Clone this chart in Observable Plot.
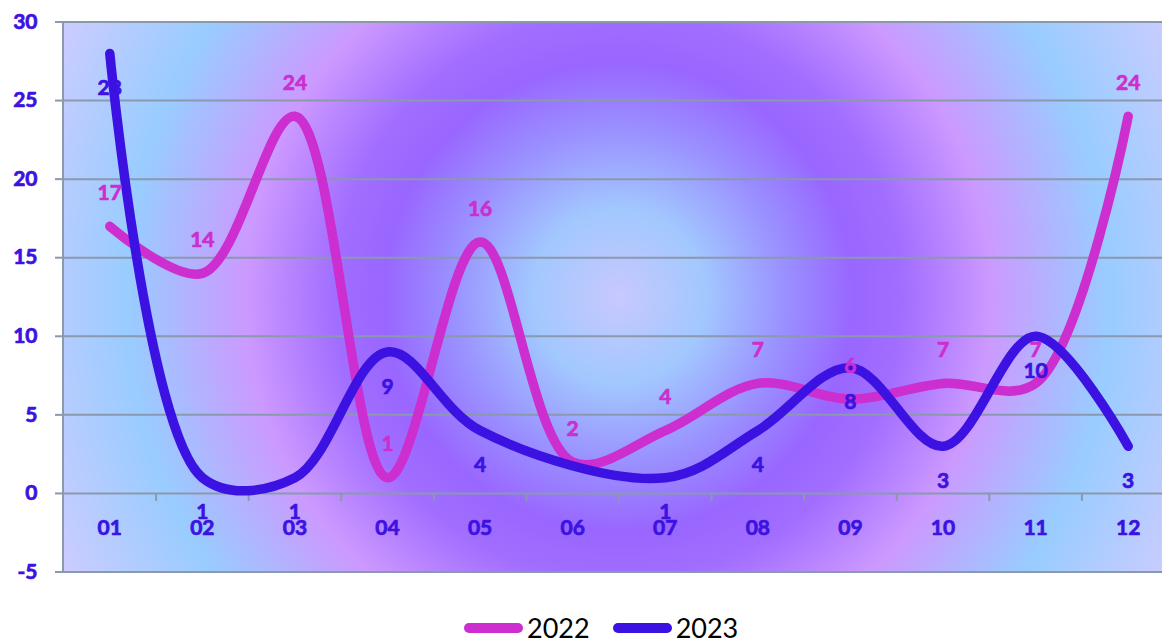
<!DOCTYPE html>
<html>
<head>
<meta charset="utf-8">
<script src="https://cdn.jsdelivr.net/npm/d3@7"></script>
<script src="https://cdn.jsdelivr.net/npm/@observablehq/plot@0.6"></script>
<style>
  body { margin: 0; background: #fff; font-family: Lato, sans-serif; }
  #chart svg { display: block; }
  .legend { display: flex; align-items: center; height: 47px; margin-top: 9px; padding-left: 464px; font-family: Lato, sans-serif; font-size: 27px; color: #000; }
  .legend .sw { width: 59px; height: 10px; border-radius: 5px; margin-right: 4px; }
  .legend .item { display: flex; align-items: center; margin-right: 23px; }
</style>
</head>
<body>
<div id="chart"></div>
<script>
const months = ["01","02","03","04","05","06","07","08","09","10","11","12"];
const series = ["2022","2023"];
const v2022 = [17, 14, 24, 1, 16, 2, 4, 7, 6, 7, 7, 24];
const v2023 = [28, 1, 1, 9, 4, null, 1, 4, 8, 3, 10, 3];
const yTicks = [-5, 0, 5, 10, 15, 20, 25, 30];

const colors = ["#cc2ecf", "#3b12e2"];
const grid = "#8a99ad";
const axisColor = "#3b12e2";
const font = "Lato, sans-serif";
const weight = "bold";
const thick = 0.7;

const data = months.flatMap((m, i) => [
  {month: m, series: "2022", value: v2022[i]},
  {month: m, series: "2023", value: v2023[i]}
]).filter(d => d.value != null);

const W = 1162, H = 595;
const mL = 63, mR = -12, mT = 21.5, mB = 23.5;
const bw = (W - mL - mR) / months.length;

function background(index, scales, values, dims) {
  const g = d3.create("svg:g");
  const x0 = dims.marginLeft, x1 = dims.width - dims.marginRight;
  const y0 = dims.marginTop, y1 = dims.height - dims.marginBottom;
  const cx = (x0 + x1) / 2, cy = (y0 + y1) / 2;
  const r = Math.hypot(x1 - cx, y1 - cy);
  const grad = g.append("defs").append("radialGradient")
    .attr("id", "bgGrad").attr("gradientUnits", "userSpaceOnUse")
    .attr("cx", cx).attr("cy", cy).attr("r", r);
  [[0, "#c8c8ff"], [0.14, "#a2c8fe"], [0.27, "#9a90ff"], [0.38, "#9966ff"], [0.46, "#a26eff"],
   [0.6, "#cc99ff"], [0.79, "#99ccff"], [1, "#cdccff"]].forEach(([o, c]) =>
    grad.append("stop").attr("offset", o).attr("stop-color", c));
  g.append("rect").attr("x", x0).attr("y", y0).attr("width", x1 - x0).attr("height", y1 - y0)
    .attr("fill", "url(#bgGrad)");
  g.append("line").attr("x1", x0).attr("x2", x0).attr("y1", y0).attr("y2", y1)
    .attr("stroke", grid).attr("stroke-width", 2);
  return g.node();
}

const textStyle = (c) => ({fill: c, stroke: c, strokeWidth: thick, fontSize: 21, fontWeight: weight, lineAnchor: "middle"});

const chart = Plot.plot({
  width: W, height: H,
  marginLeft: mL, marginRight: mR, marginTop: mT, marginBottom: mB,
  style: {fontFamily: font, background: "transparent"},
  x: {type: "band", domain: months, padding: 0, round: false, axis: null},
  y: {domain: [-5, 30], axis: null},
  color: {domain: series, range: colors},
  marks: [
    background,
    Plot.ruleY(yTicks, {stroke: grid, strokeWidth: 2}),
    Plot.ruleX(months.slice(1), {x: d => d, y1: 0, y2: 0, insetBottom: -8, dx: -bw / 2, stroke: grid, strokeWidth: 2}),
    Plot.axisY(yTicks, {tickSize: 8, tickPadding: 18, stroke: grid, strokeWidth: 2, text: null, label: null}),
    Plot.text(yTicks, {y: d => d, text: d => String(d), frameAnchor: "left", dx: -26, textAnchor: "end", ...textStyle(axisColor)}),
    Plot.text(months, {x: d => d, frameAnchor: "bottom", dy: -44, ...textStyle(axisColor)}),
    Plot.line(data, {x: "month", y: "value", z: "series", stroke: "series", curve: "catmull-rom", strokeWidth: 9.5, strokeLinecap: "round", strokeLinejoin: "round"}),
    Plot.text(data.filter(d => d.series === "2022"), {x: "month", y: "value", text: d => String(d.value), dy: -33, ...textStyle(colors[0])}),
    Plot.text(data.filter(d => d.series === "2023"), {x: "month", y: "value", text: d => String(d.value), dy: 35, ...textStyle(colors[1])})
  ]
});
document.getElementById("chart").appendChild(chart);

const legend = document.createElement("div");
legend.className = "legend";
series.forEach((s, i) => {
  const item = document.createElement("div");
  item.className = "item";
  const sw = document.createElement("div");
  sw.className = "sw";
  sw.style.background = colors[i];
  const t = document.createElement("span");
  t.textContent = s;
  item.appendChild(sw); item.appendChild(t);
  legend.appendChild(item);
});
document.body.appendChild(legend);
</script>
</body>
</html>
